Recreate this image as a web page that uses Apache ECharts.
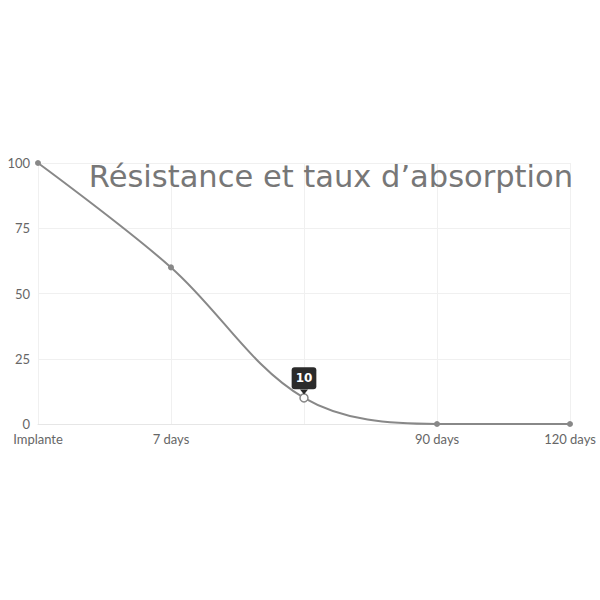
<!DOCTYPE html>
<html lang="fr">
<head>
    <meta charset="UTF-8">
    <title>Résistance et taux d'absorption</title>
    <script type="text/javascript" src="https://cdn.jsdelivr.net/npm/echarts@6/dist/echarts.min.js"></script>
    <style>html,body{margin:0;padding:0;background:#fff;}</style>
</head>
<body>
<div id="chart" style="width:600px;height:600px;"></div>
<script>
    // données
    var categories = ['Implante', '7 days', '', '90 days', '120 days'];
    var values = [100, 60, 10, 0, 0];
    var yTicks = [0, 25, 50, 75, 100];
    var hiIndex = 2; // point mis en avant (infobulle "10")

    var seriesData = values.map(function (v, i) {
        if (i !== hiIndex) return v;
        return {
            value: v,
            symbolSize: 8,
            itemStyle: {color: '#fff', borderColor: '#888', borderWidth: 1.5},
            label: {
                show: true,
                position: 'top',
                distance: 4,
                formatter: '{c}',
                color: '#fff',
                fontWeight: 'bold',
                fontSize: 12,
                fontFamily: 'DejaVu Sans',
                backgroundColor: '#2b2b2b',
                borderRadius: 3,
                padding: [5, 4, 5, 4]
            }
        };
    });

    var chart = echarts.init(document.getElementById('chart'), null, {renderer: 'svg'});
    chart.setOption({
        animation: false,
        title: {
            text: 'Résistance et taux d\u2019absorption',
            right: 22,
            top: 156,
            textStyle: {fontFamily: 'DejaVu Sans', fontWeight: 'normal', fontSize: 30.5, color: '#777'}
        },
        grid: {left: 38, right: 30, top: 163, bottom: 176},
        xAxis: {
            type: 'category',
            data: categories,
            boundaryGap: false,
            axisLine: {lineStyle: {color: '#e6e6e6'}},
            axisTick: {show: false},
            axisLabel: {color: '#666', fontSize: 13, fontFamily: 'Lato', margin: 8, interval: 0},
            splitLine: {show: true, lineStyle: {color: '#f0f0f0'}}
        },
        yAxis: {
            type: 'value',
            min: yTicks[0],
            max: yTicks[yTicks.length - 1],
            interval: 25,
            axisLine: {show: false},
            axisTick: {show: false},
            axisLabel: {color: '#666', fontSize: 13, fontFamily: 'Lato', margin: 8},
            splitLine: {lineStyle: {color: '#f0f0f0'}}
        },
        series: [{
            type: 'line',
            data: seriesData,
            smooth: 0.35,
            symbol: 'circle',
            symbolSize: 6,
            showAllSymbol: true,
            lineStyle: {color: '#888', width: 2},
            itemStyle: {color: '#888'},
            markPoint: {
                silent: true,
                symbol: 'triangle',
                symbolSize: [8, 5],
                symbolRotate: 180,
                symbolOffset: [0, -6],
                itemStyle: {color: '#2b2b2b'},
                label: {show: false},
                data: [{coord: [hiIndex, values[hiIndex]]}]
            }
        }]
    });
</script>
</body>
</html>
